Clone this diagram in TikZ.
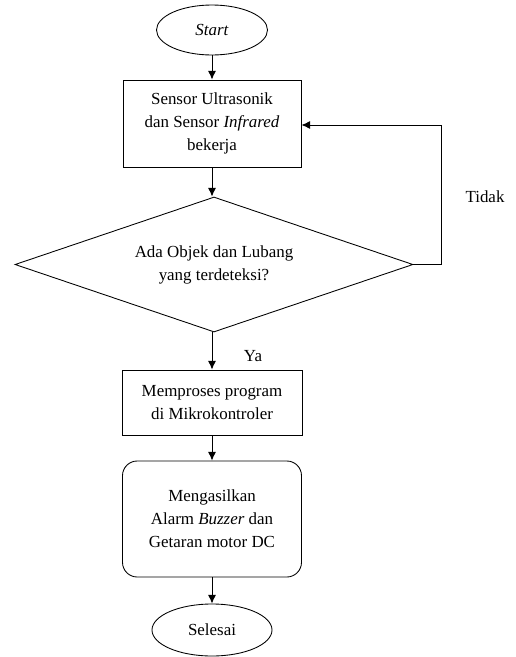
\documentclass[tikz,border=0pt]{standalone}
\usepackage{fontspec}
\setmainfont{Liberation Serif}
\usetikzlibrary{shapes.geometric,arrows.meta}

\tikzset{
  flowline/.style={line width=0.65pt,-{Latex[length=6.5pt,width=6pt]}},
  terminal/.style={draw,line width=0.65pt,ellipse,inner sep=0pt,align=center},
  procbox/.style={draw,line width=0.65pt,rectangle,inner sep=0pt,align=center},
  decide/.style={draw,line width=0.65pt,diamond,aspect=2.95,inner sep=0pt,align=center}
}

\begin{document}
\begin{tikzpicture}[x=0.75pt,y=0.75pt,yscale=-1,xscale=1,font=\fontsize{12.7}{17.2}\selectfont]
\useasboundingbox (0,0) rectangle (515,657);

%Shape: Ellipse [start]
\node [terminal,minimum width=83.25pt,minimum height=37.5pt] (start) at (212,30) {\textit{Start}};
%Shape: Rectangle [sensor]
\node [procbox,minimum width=133.5pt,minimum height=65.25pt] (sensor) at (212,123.5) {Sensor Ultrasonik\\dan Sensor \textit{Infrared}\\bekerja};
%Shape: Diamond [cek]
\node [decide,minimum width=298.5pt,minimum height=101.25pt] (cek) at (214,264.5) {Ada Objek dan Lubang\\yang terdeteksi?};
%Shape: Rectangle [proses]
\node [procbox,minimum width=135pt,minimum height=48.75pt] (proses) at (212,402.5) {Memproses program\\di Mikrokontroler};
%Shape: Rounded Rectangle [hasil]
\node [procbox,rounded corners=11pt,minimum width=134.25pt,minimum height=87pt] (hasil) at (212,519) {Mengasilkan\\Alarm \textit{Buzzer} dan\\Getaran motor DC};
%Shape: Ellipse [selesai]
\node [terminal,minimum width=90pt,minimum height=39pt] (selesai) at (212,630) {Selesai};

%Straight Lines
\draw [flowline] (start) -- (sensor);
\draw [flowline] (sensor) -- (cek.north -| sensor);
\draw [flowline] (cek.south -| sensor) -- (proses);
\draw [flowline] (proses) -- (hasil);
\draw [flowline] (hasil) -- (selesai);
%Loop back [tidak]
\coordinate (balik) at (441,125);
\draw [flowline] (cek.east) -| (balik) -- (sensor.east |- balik);

% Text Node
\node (tidak) at (485,197) {Tidak};
% Text Node
\node (ya) at (253,356) {Ya};

\end{tikzpicture}
\end{document}
